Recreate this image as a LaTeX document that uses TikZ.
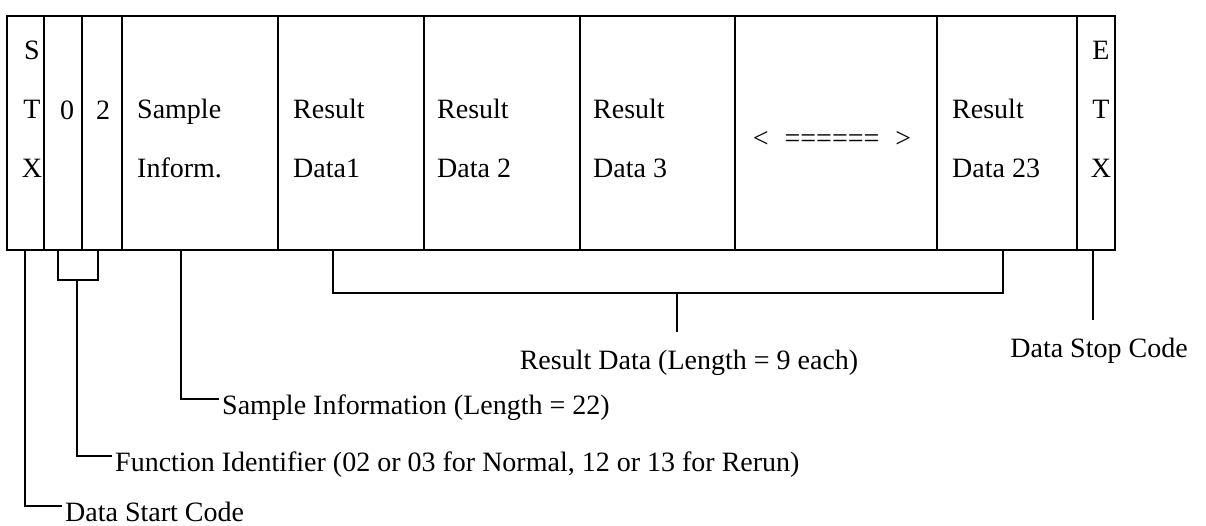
\documentclass[tikz,border=0pt]{standalone}
\usepackage{fontspec}
\setmainfont{Liberation Serif}
\usetikzlibrary{calc}

\begin{document}
\begin{tikzpicture}[
  x=1pt, y=-1pt,
  frame/.style={draw=black, line width=1.5pt},
  leader/.style={draw=black, line width=1.5pt},
  field/.style={font=\fontsize{28}{59}\selectfont, inner sep=0pt},
  callout/.style={font=\fontsize{28}{34}\selectfont, inner xsep=3pt, inner ysep=17pt}
]
\fill[white] (0,0) rectangle (1206,526);
\useasboundingbox (0,0) rectangle (1206,526);

\draw[frame] (7,16) rectangle (1115,250);
\draw[frame] (44,16) -- (44,250) (82,16) -- (82,250) (122,16) -- (122,250)
  (278,16) -- (278,250) (424,16) -- (424,250) (580,16) -- (580,250)
  (735,16) -- (735,250) (937,16) -- (937,250) (1077,16) -- (1077,250);

\node[field, align=center, anchor=base] (stx) at (32,178) {S\\T\\X};
\node[field, anchor=base] (fn0) at (67,120) {0};
\node[field, anchor=base] (fn2) at (103,120) {2};
\node[field, align=left, anchor=base west] (sinfo) at (137,178) {Sample\\Inform.};
\node[field, align=left, anchor=base west] (res1) at (293,178) {Result\\Data1};
\node[field, align=left, anchor=base west] (res2) at (437,178) {Result\\Data 2};
\node[field, align=left, anchor=base west] (res3) at (593,178) {Result\\Data 3};
\node[field] (gap) at (832,139) {<\hspace{16pt}======\hspace{16pt}>};
\node[field, align=left, anchor=base west] (res23) at (952,178) {Result\\Data 23};
\node[field, align=center, anchor=base] (etx) at (1101,178) {E\\T\\X};

\node[callout, anchor=base west] (startlbl) at (62,521) {Data Start Code};
\node[callout, anchor=base west] (fnlbl) at (112,471) {Function Identifier (02 or 03 for Normal, 12 or 13 for Rerun)};
\node[callout, anchor=base west] (samplbl) at (219,414) {Sample Information (Length = 22)};
\node[callout, anchor=base] (reslbl) at (689,369) {Result Data (Length = 9 each)};
\node[callout, anchor=base] (stoplbl) at (1099,357) {Data Stop Code};

\coordinate (stxfoot) at (25,250);
\coordinate (fnleft) at (58,250);
\coordinate (fnright) at (98,250);
\coordinate (fnmid) at (77,280);
\coordinate (sfoot) at (181,250);
\coordinate (rleft) at (333,250);
\coordinate (rright) at (1003,250);
\coordinate (rmid) at (677,293);
\coordinate (etxfoot) at (1093,250);

\draw[leader] (stxfoot) |- ([yshift=15pt]startlbl.base west);
\draw[leader] (fnleft) -- ++(0,30) -| (fnright);
\draw[leader] (fnmid) |- ([yshift=15pt]fnlbl.base west);
\draw[leader] (sfoot) |- ([yshift=15pt]samplbl.base west);
\draw[leader] (rleft) -- ++(0,43) -| (rright);
\draw[leader] (rmid) -- (rmid |- reslbl.north);
\draw[leader] (etxfoot) -- (etxfoot |- stoplbl.north);
\end{tikzpicture}
\end{document}
